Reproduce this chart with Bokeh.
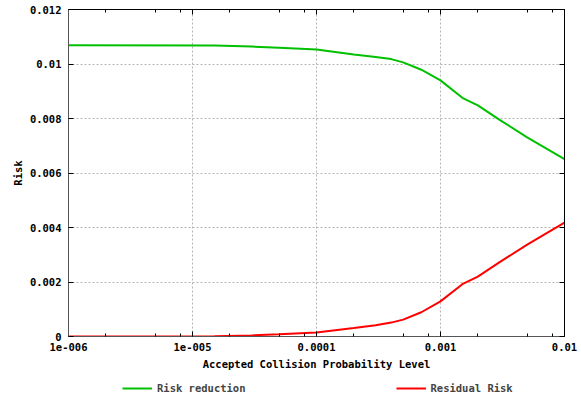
from bokeh.plotting import figure
from bokeh.layouts import column
from bokeh.models import (FixedTicker, CustomJSTickFormatter, LogAxis, LinearAxis,
                          Legend, LegendItem, ColumnDataSource, Range1d)
from bokeh.embed import file_html
from bokeh.resources import INLINE

# Data
prob_level = [1e-6, 1.5e-5, 3e-5, 5e-5, 1e-4, 2e-4, 3e-4, 4e-4, 5e-4, 7e-4,
              1e-3, 1.5e-3, 2e-3, 3e-3, 5e-3, 1e-2]
risk_reduction = [0.01069, 0.01068, 0.01064, 0.01060, 0.01053, 0.01035, 0.01026,
                  0.01018, 0.01006, 0.00979, 0.00940, 0.00876, 0.00848, 0.00795,
                  0.00731, 0.00651]
residual_risk = [0.0, 0.00001, 0.00004, 0.00008, 0.00015, 0.00031, 0.00041,
                 0.00051, 0.00062, 0.00089, 0.00129, 0.00192, 0.00220, 0.00273,
                 0.00337, 0.00418]
series_names = ["Risk reduction", "Residual Risk"]
series_colors = ["#00c000", "#ff0000"]

x_ticks = [1e-6, 1e-5, 1e-4, 1e-3, 1e-2]
x_tick_labels = ["1e-006", "1e-005", "0.0001", "0.001", "0.01"]
x_minor_ticks = [m * 10.0 ** e for e in range(-6, -2) for m in (2, 5, 8)]
y_ticks = [0, 0.002, 0.004, 0.006, 0.008, 0.01, 0.012]
y_tick_labels = ["0", "0.002", "0.004", "0.006", "0.008", "0.01", "0.012"]

FONT = "DejaVu Sans Mono"
FS = "10.5px"

src = ColumnDataSource(dict(x=prob_level, rr=risk_reduction, res=residual_risk))

p = figure(width=581, height=374, x_axis_type="log",
           x_range=Range1d(1e-6, 1e-2), y_range=Range1d(0, 0.012),
           output_backend="svg", toolbar_location=None,
           min_border_left=68, min_border_right=17, min_border_top=9,
           min_border_bottom=38, background_fill_color="white",
           border_fill_color="white")
p.outline_line_color = "black"

xt = FixedTicker(ticks=x_ticks, minor_ticks=x_minor_ticks)
yt = FixedTicker(ticks=y_ticks, minor_ticks=[])

xfmt = CustomJSTickFormatter(args=dict(t=x_ticks, l=x_tick_labels), code="""
let best = 0, bd = 1e9;
for (let i = 0; i < t.length; i++) {
  const d = Math.abs(Math.log10(t[i]) - Math.log10(tick));
  if (d < bd) { bd = d; best = i; }
}
return l[best];
""")
yfmt = CustomJSTickFormatter(args=dict(t=y_ticks, l=y_tick_labels), code="""
let best = 0, bd = 1e9;
for (let i = 0; i < t.length; i++) {
  const d = Math.abs(t[i] - tick);
  if (d < bd) { bd = d; best = i; }
}
return l[best];
""")
blank = CustomJSTickFormatter(code="return '';")

def style_axis(ax, show_labels=True):
    ax.major_tick_in = 5
    ax.major_tick_out = 0
    ax.minor_tick_in = 3
    ax.minor_tick_out = 0
    ax.axis_line_color = "#555555"
    ax.major_tick_line_color = "black"
    ax.minor_tick_line_color = "black"
    if show_labels:
        ax.major_label_text_font = FONT
        ax.major_label_text_font_size = FS
        ax.major_label_text_font_style = "bold"
        ax.major_label_text_color = "black"
        ax.axis_label_text_font = FONT
        ax.axis_label_text_font_size = FS
        ax.axis_label_text_font_style = "bold"
        ax.axis_label_text_color = "black"
    else:
        ax.major_label_standoff = 0

xa = p.xaxis[0]
xa.ticker = xt
xa.formatter = xfmt
xa.axis_label = "Accepted Collision Probability Level"
xa.major_label_standoff = 6
xa.axis_label_standoff = 4
style_axis(xa)

ya = p.yaxis[0]
ya.ticker = yt
ya.formatter = yfmt
ya.axis_label = "Risk"
ya.major_label_standoff = 7
ya.axis_label_standoff = 3
style_axis(ya)

top = LogAxis(ticker=xt, formatter=blank)
style_axis(top, False)
top.axis_line_color = "black"
p.add_layout(top, "above")
right = LinearAxis(ticker=yt, formatter=blank)
style_axis(right, False)
right.axis_line_color = "black"
p.add_layout(right, "right")

p.xgrid.ticker = FixedTicker(ticks=x_ticks)
p.ygrid.ticker = yt
for g in (p.xgrid[0], p.ygrid[0]):
    g.grid_line_color = "#b4b4b4"
    g.grid_line_dash = "2 2"
    g.grid_line_width = 1

p.line("x", "rr", source=src, line_color=series_colors[0], line_width=2)
p.line("x", "res", source=src, line_color=series_colors[1], line_width=2)

# Legend strip below the chart (its ranges keep the copies of the lines out of view)
lg = figure(width=581, height=24, x_range=Range1d(2, 3), y_range=Range1d(2, 3),
            output_backend="svg", toolbar_location=None,
            min_border_left=68, min_border_right=17, min_border_top=0,
            min_border_bottom=0,
            x_axis_location=None, y_axis_location=None,
            background_fill_color="white", border_fill_color="white")
lg.grid.visible = False
lg.outline_line_color = None
r1 = lg.line("x", "rr", source=src, line_color=series_colors[0], line_width=2)
r2 = lg.line("x", "res", source=src, line_color=series_colors[1], line_width=2)

legend = Legend(items=[LegendItem(label=series_names[0], renderers=[r1]),
                       LegendItem(label=series_names[1], renderers=[r2])],
                orientation="horizontal", location=(54, 0),
                spacing=150, glyph_width=30, glyph_height=20, label_height=20,
                label_standoff=5, padding=0, margin=0, border_line_color=None,
                background_fill_alpha=0,
                label_text_font=FONT, label_text_font_size=FS,
                label_text_font_style="bold")
lg.add_layout(legend, "center")

layout = column(p, lg, spacing=0)
open("out.html", "w").write(file_html(layout, INLINE))
